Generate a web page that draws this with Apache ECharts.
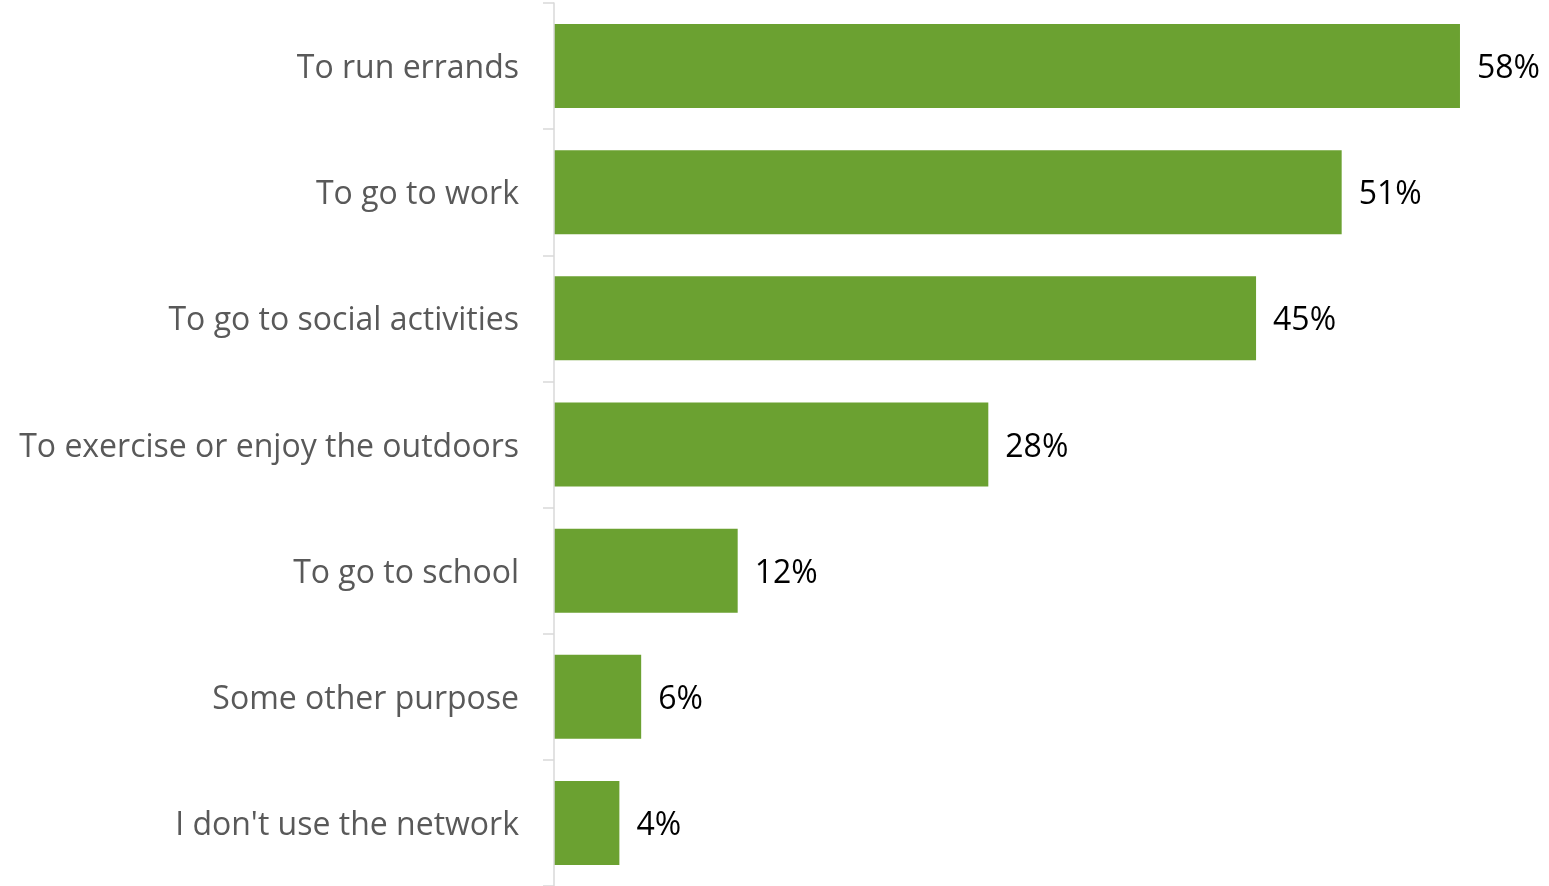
<!DOCTYPE html>
<html>
<head>
<meta charset="utf-8">
<title>Network use</title>
<style>
  html, body { margin: 0; padding: 0; background: #fff; }
  #main { width: 1549px; height: 886px; }
</style>
</head>
<body>
<div id="main"></div>
<script src="https://cdn.jsdelivr.net/npm/echarts@6/dist/echarts.min.js"></script>
<script>
// categories, top to bottom
var categories = [
  'To run errands',
  'To go to work',
  'To go to social activities',
  'To exercise or enjoy the outdoors',
  'To go to school',
  'Some other purpose',
  "I don't use the network"
];
// percent values (labels show them rounded)
var values = [58.2, 50.6, 45.1, 27.9, 11.8, 5.6, 4.2];

var myChart = echarts.init(document.getElementById('main'));

var option = {
  animation: false,
  grid: { left: 554, right: 61, top: 3, bottom: -3, containLabel: false },
  xAxis: {
    type: 'value',
    min: 0,
    max: 60,
    show: false
  },
  yAxis: {
    type: 'category',
    inverse: true,
    data: categories,
    axisLine: { show: true, lineStyle: { color: '#D9D9D9', width: 1.5 } },
    axisTick: { show: true, length: 11, lineStyle: { color: '#D9D9D9', width: 1.5 } },
    axisLabel: {
      margin: 35,
      formatter: function (v) { return '{c|' + v + '}'; },
      rich: {
        c: {
          color: '#595959',
          fontFamily: 'Open Sans',
          fontSize: 32,
          padding: [6, 0, 0, 0]
        }
      }
    },
    z: 5
  },
  series: [{
    type: 'bar',
    data: values,
    barWidth: 84,
    itemStyle: { color: '#6BA131' },
    label: {
      show: true,
      position: 'right',
      distance: 17,
      offset: [0, 3],
      color: '#000',
      fontFamily: 'Open Sans',
      fontSize: 32,
      formatter: function (p) { return Math.round(p.value) + '%'; }
    }
  }]
};
myChart.setOption(option);
</script>
</body>
</html>
